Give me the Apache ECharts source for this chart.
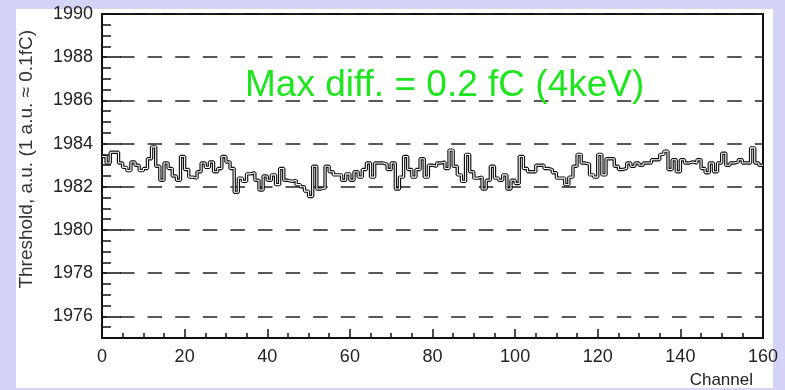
<!DOCTYPE html>
<html><head><meta charset="utf-8">
<script src="https://cdn.jsdelivr.net/npm/echarts@6/dist/echarts.min.js"></script>
<style>
html,body{margin:0;padding:0;background:#d4d4f6;overflow:hidden;}
#panel{position:absolute;left:16px;top:9px;width:757px;height:379px;background:#fff;}
#c{position:absolute;left:0;top:0;width:785px;height:390px;}
</style>
</head><body><div id="panel"></div><div id="c"></div>
<script>
// Threshold per channel (a.u.), channels 0..159
const thresholds = [
1983.4, 1983.1, 1983.6, 1983.6, 1983.1, 1982.9, 1982.75, 1983.15, 1983.0, 1982.75,
1982.85, 1983.3, 1983.85, 1982.95, 1982.3, 1983.1, 1982.85, 1982.5, 1982.3, 1983.4,
1982.8, 1982.45, 1982.4, 1982.7, 1983.1, 1982.9, 1983.15, 1982.7, 1982.85, 1983.4,
1983.15, 1982.85, 1981.75, 1982.4, 1982.25, 1982.6, 1982.65, 1982.3, 1981.85, 1982.5,
1982.3, 1982.55, 1982.1, 1982.85, 1982.3, 1982.25, 1982.3, 1982.1, 1982.0, 1981.8,
1981.55, 1982.95, 1981.9, 1981.95, 1982.95, 1982.7, 1982.55, 1982.55, 1982.3, 1982.6,
1982.3, 1982.7, 1982.45, 1982.8, 1983.1, 1982.45, 1983.1, 1983.1, 1983.05, 1982.8,
1983.1, 1981.9, 1982.45, 1983.4, 1982.8, 1982.45, 1982.8, 1983.3, 1982.45, 1983.0,
1982.95, 1983.1, 1983.15, 1982.85, 1983.7, 1982.95, 1982.55, 1982.25, 1983.5, 1982.7,
1982.4, 1982.45, 1981.9, 1982.3, 1982.95, 1982.4, 1982.3, 1982.55, 1981.9, 1982.3,
1982.15, 1983.4, 1982.85, 1982.7, 1982.7, 1983.0, 1983.0, 1982.85, 1982.8, 1982.65,
1982.4, 1982.4, 1982.1, 1982.45, 1982.95, 1983.5, 1983.1, 1983.05, 1982.55, 1982.45,
1983.5, 1982.55, 1983.3, 1983.3, 1982.95, 1982.8, 1982.85, 1983.1, 1982.95, 1983.1,
1983.0, 1983.1, 1983.1, 1983.25, 1983.25, 1983.5, 1983.65, 1982.8, 1983.25, 1982.7,
1983.25, 1983.1, 1983.15, 1983.1, 1983.25, 1982.85, 1982.65, 1983.1, 1982.7, 1983.1,
1983.55, 1983.0, 1983.1, 1983.15, 1983.25, 1983.1, 1983.1, 1983.8, 1983.1, 1983.0
];
const xRange = [0, 160];
const yRange = [1975, 1990];
const yTickLabels = [1976, 1978, 1980, 1982, 1984, 1986, 1988, 1990];
const xTitle = 'Channel';
const yTitle = 'Threshold, a.u. (1 a.u. \u2248 0.1fC)';
const annotation = 'Max diff. = 0.2 fC (4keV)';

const stepData = thresholds.map((v, i) => [i, v]);
stepData.push([thresholds.length, thresholds[thresholds.length - 1]]);

const FONT = '"Liberation Sans", Arial, sans-serif';
const chart = echarts.init(document.getElementById('c'), null, {renderer: 'canvas'});
chart.setOption({
  animation: false,
  backgroundColor: 'transparent',
  grid: {left: 102, right: 22, top: 14, bottom: 52, show: true, borderColor: '#111', borderWidth: 2, backgroundColor: '#fff', containLabel: false},
  xAxis: {
    type: 'value', min: xRange[0], max: xRange[1], interval: 20,
    axisLine: {show: true, onZero: false, lineStyle: {color: '#111', width: 2}},
    axisTick: {show: true, inside: true, length: 9, lineStyle: {color: '#111', width: 1.5}},
    minorTick: {show: true, splitNumber: 4, length: 5, lineStyle: {color: '#111', width: 1.5}},
    axisLabel: {color: '#222', fontSize: 18, fontFamily: FONT, margin: 10},
    splitLine: {show: false}
  },
  yAxis: [{
    type: 'value', min: yRange[0], max: yRange[1], interval: 1,
    axisLine: {show: true, lineStyle: {color: '#111', width: 2}},
    axisTick: {show: true, inside: true, length: 9, lineStyle: {color: '#111', width: 1.5}},
    minorTick: {show: true, splitNumber: 2, length: 9, lineStyle: {color: '#111', width: 1.5}},
    axisLabel: {color: '#222', fontSize: 18, fontFamily: FONT, margin: 9,
      formatter: v => yTickLabels.indexOf(v) >= 0 ? String(v) : ''},
    splitLine: {show: false}
  }, {
    type: 'value', inverse: true, min: 0, max: yRange[1] - yRange[0], interval: 2,
    position: 'left', offset: 0,
    axisLine: {show: false},
    axisTick: {show: true, inside: true, length: 19, lineStyle: {color: '#111', width: 1.5}},
    axisLabel: {show: false},
    splitLine: {show: true, lineStyle: {color: '#222', width: 1.5, type: [14.5, 13.1], dashOffset: 9.6}}
  }],
  graphic: [
    {type: 'text', x: 245, y: 86, z: 100,
     style: {text: annotation, fill: '#1ee61e', font: '37px ' + FONT, textVerticalAlign: 'middle', textAlign: 'left'}},
    {type: 'text', x: 753, y: 380, z: 100,
     style: {text: xTitle, fill: '#222', font: '17px ' + FONT, textVerticalAlign: 'middle', textAlign: 'right'}},
    {type: 'text', x: 27, y: 30, rotation: Math.PI / 2, z: 100,
     style: {text: yTitle, fill: '#333', font: '19px ' + FONT, textVerticalAlign: 'middle', textAlign: 'right'}}
  ],
  series: [{
    type: 'line', step: 'end', data: stepData, showSymbol: false, symbol: 'none',
    lineStyle: {color: '#111', width: 3.4}, z: 3, clip: true
  }, {
    type: 'line', step: 'end', data: stepData, showSymbol: false, symbol: 'none',
    lineStyle: {color: '#fff', width: 1.1}, z: 4, clip: true
  }]
});
</script>
</body></html>
